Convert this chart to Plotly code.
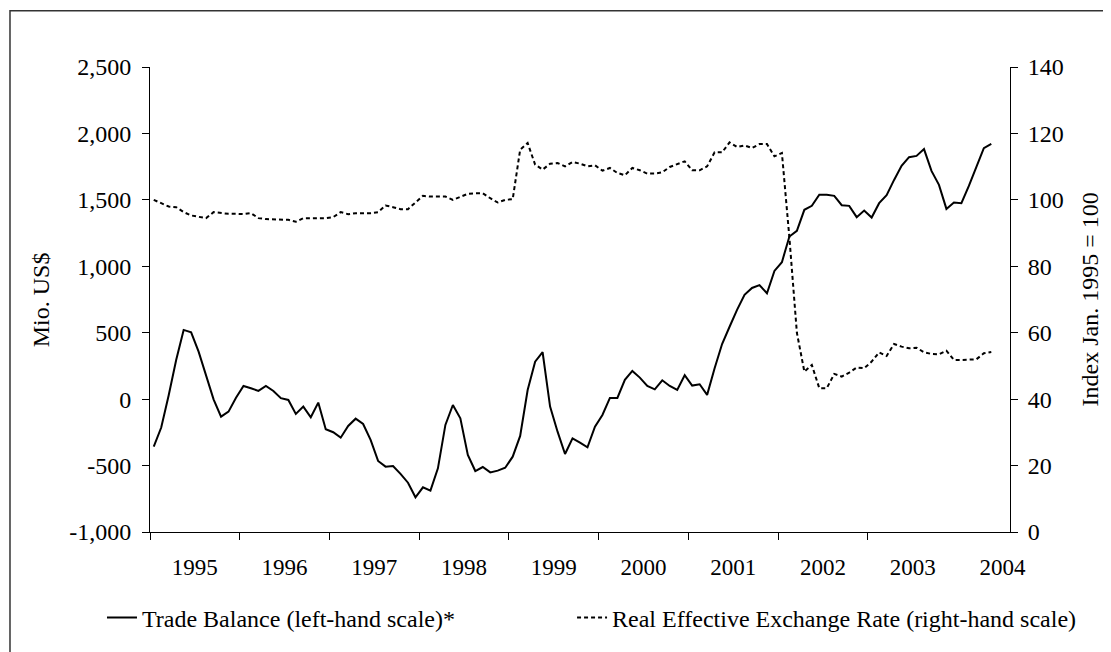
import plotly.graph_objects as go

# Monthly data, Jan 1995 .. May 2004
years = [str(y) for y in range(1995, 2005)]

trade_balance = [
    -357, -214, 30, 295, 521, 503, 358, 170, -1, -132, -94, 11,
    99, 82, 62, 99, 62, 7, -6, -111, -56, -136, -26, -227,
    -249, -290, -202, -147, -187, -307, -465, -508, -503, -563, -629, -739,
    -664, -689, -521, -194, -44, -144, -420, -541, -511, -551, -538, -516,
    -433, -277, 69, 282, 353, -56, -245, -413, -295, -327, -362, -207,
    -119, 9, 9, 145, 212, 162, 99, 74, 142, 99, 69, 180,
    102, 112, 32, 232, 415, 545, 672, 785, 837, 858, 797, 965,
    1031, 1224, 1267, 1425, 1455, 1538, 1538, 1530, 1460, 1455, 1370, 1420,
    1367, 1475, 1535, 1650, 1756, 1821, 1831, 1882, 1718, 1613, 1432, 1480,
    1475, 1605, 1746, 1889, 1921,
]

reer = [
    100.0, 99.0, 98.0, 97.8, 96.3, 95.3, 95.0, 94.5, 96.3, 96.0, 95.8, 95.8,
    95.7, 96.0, 94.5, 94.2, 94.2, 94.2, 94.0, 93.4, 94.5, 94.5, 94.5, 94.5,
    94.8, 96.3, 95.7, 96.0, 96.0, 96.0, 96.3, 98.3, 97.8, 97.2, 97.2, 99.3,
    101.2, 101.0, 101.0, 101.0, 100.0, 101.0, 101.8, 102.0, 102.0, 100.5, 99.2, 100.0,
    100.2, 115.1, 117.1, 110.6, 109.1, 110.9, 111.1, 110.1, 111.4, 110.9, 110.1, 110.4,
    108.8, 109.6, 108.1, 107.4, 109.6, 108.9, 107.9, 107.9, 108.3, 109.9, 110.8, 111.6,
    108.9, 108.9, 110.1, 114.3, 114.3, 117.3, 115.9, 116.4, 115.6, 116.8, 116.8, 113.1,
    114.1, 88.6, 60.0, 48.3, 50.3, 43.3, 43.3, 47.6, 46.8, 48.0, 49.5, 49.3,
    51.3, 54.1, 53.0, 56.6, 55.8, 55.3, 55.5, 54.1, 53.6, 53.5, 54.6, 51.8,
    51.8, 51.8, 52.0, 53.8, 54.2,
]

left_ticks = [-1000, -500, 0, 500, 1000, 1500, 2000, 2500]
left_ticktext = ["-1,000", "-500", "0", "500", "1,000", "1,500", "2,000", "2,500"]
right_ticks = [0, 20, 40, 60, 80, 100, 120, 140]

n = len(trade_balance)
x_month = [i + 0.5 for i in range(n)]          # month centres (months since Jan 1995)
year_bounds = [12 * k for k in range(len(years) - 1)]
year_mids = [12 * k + 6 for k in range(len(years))]
x_range = [0, 115]

FONT = "Liberation Serif"
TF = dict(family=FONT, size=24, color="black")
XF = dict(family=FONT, size=23, color="black")

fig = go.Figure()
fig.add_trace(go.Scatter(
    x=x_month, y=trade_balance, mode="lines", name="Trade Balance (left-hand scale)*",
    line=dict(color="black", width=2), yaxis="y", xaxis="x", legend="legend",
))
fig.add_trace(go.Scatter(
    x=x_month, y=reer, mode="lines", name="Real Effective Exchange Rate (right-hand scale)",
    line=dict(color="black", width=2, dash="4px,3px"), yaxis="y2", xaxis="x", legend="legend2",
))

axis_common = dict(showgrid=False, zeroline=False, tickfont=TF, automargin=False,
                   tickcolor="black", tickwidth=1, ticklen=7)

fig.update_layout(
    width=1111, height=652,
    margin=dict(l=142, r=109, t=59, b=128, autoexpand=False),
    paper_bgcolor="white", plot_bgcolor="white",
    font=TF,
    xaxis=dict(
        range=x_range, tickmode="array", tickvals=year_mids, ticktext=years, ticks="",
        showline=True, linecolor="black", linewidth=1, showgrid=False, zeroline=False,
        tickfont=XF, ticklabelstandoff=14, automargin=False,
        minor=dict(tickmode="array", tickvals=year_bounds, ticks="outside", ticklen=7,
                   tickcolor="black", tickwidth=1, showgrid=False),
    ),
    xaxis2=dict(
        range=x_range, overlaying="x", anchor="y", side="bottom", tickmode="array",
        tickvals=year_bounds, ticks="inside", ticklen=7, tickcolor="black", tickwidth=1,
        showticklabels=False, showline=False, showgrid=False, zeroline=False, automargin=False,
    ),
    yaxis=dict(
        range=[-1000, 2500], tickmode="array", tickvals=left_ticks, ticktext=left_ticktext,
        ticks="outside", showline=True, linecolor="black", linewidth=1,
        ticklabelstandoff=6, **axis_common,
    ),
    yaxis2=dict(
        range=[0, 140], tickmode="array", tickvals=right_ticks, overlaying="y", side="right",
        anchor="x", ticks="outside", showline=True, linecolor="black", linewidth=1,
        ticklabelstandoff=5, **axis_common,
    ),
    yaxis3=dict(
        range=[-1000, 2500], tickmode="array", tickvals=left_ticks, overlaying="y", side="left",
        anchor="x", ticks="inside", showticklabels=False, showline=False,
        **axis_common,
    ),
    yaxis4=dict(
        range=[0, 140], tickmode="array", tickvals=right_ticks, overlaying="y", side="right",
        anchor="x", ticks="inside", showticklabels=False, showline=False,
        **axis_common,
    ),
    showlegend=True,
    legend=dict(
        orientation="h", xref="container", yref="container",
        x=0.0846, xanchor="left", y=0.0644, yanchor="middle",
        font=TF, bgcolor="rgba(0,0,0,0)",
    ),
    legend2=dict(
        orientation="h", xref="container", yref="container",
        x=0.5077, xanchor="left", y=0.0644, yanchor="middle",
        font=TF, bgcolor="rgba(0,0,0,0)",
    ),
    annotations=[
        dict(text="Mio. US$", xref="paper", yref="paper", x=-0.127, y=0.5, textangle=-90,
             showarrow=False, xanchor="center", yanchor="middle", font=TF),
        dict(text="Index Jan. 1995 = 100", xref="paper", yref="paper", x=1.093, y=0.5,
             textangle=-90, showarrow=False, xanchor="center", yanchor="middle", font=TF),
    ],
    shapes=[
        dict(type="rect", xref="paper", yref="paper", x0=-0.1628, x1=1.4, y0=-0.5, y1=1.1212,
             line=dict(color="#333333", width=1.5), fillcolor="rgba(0,0,0,0)", layer="below"),
    ],
)

fig.write_html("out.html")
